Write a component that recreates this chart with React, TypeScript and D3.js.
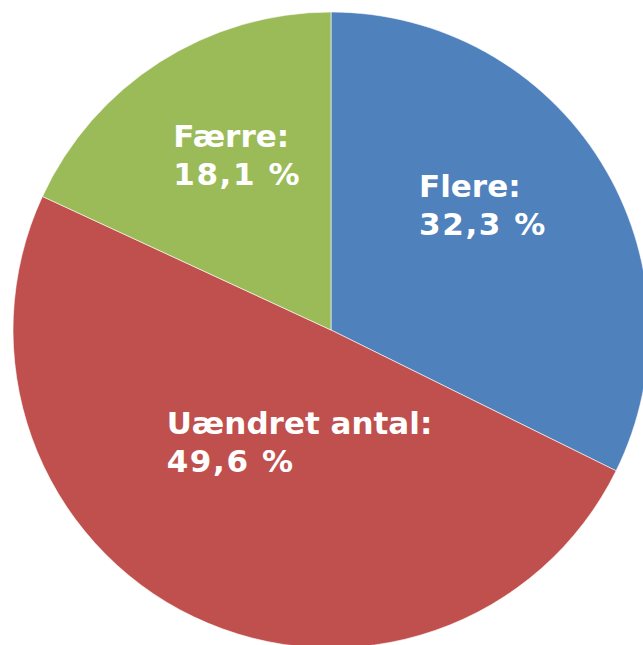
import React from "react";
import * as d3 from "d3";

const categories = ["Flere", "Uændret antal", "Færre"];
const values = [32.3, 49.6, 18.1];
const colors = ["#4F81BD", "#C0504D", "#9BBB59"];

// label layout offsets (from arc centroid) for the first line start
const labelOffsets: [number, number][] = [
  [-74, -32],
  [-82, -68],
  [-55, -22],
];

const W = 643;
const H = 645;
const cx = 331;
const cy = 330;
const R = 318;

export default function App() {
  const pie = d3.pie<number>().sort(null).value((d) => d)(values);
  const arc = d3.arc<d3.PieArcDatum<number>>().innerRadius(0).outerRadius(R);
  const labelArc = d3
    .arc<d3.PieArcDatum<number>>()
    .innerRadius(R * 0.6)
    .outerRadius(R * 0.6);
  const fmt = (v: number) => v.toFixed(1).replace(".", ",") + " %";
  return (
    <svg
      width={W}
      height={H}
      style={{ position: "absolute", left: 0, top: 0, background: "#fff" }}
    >
      <g transform={`translate(${cx},${cy})`}>
        {pie.map((p, i) => (
          <path
            key={i}
            d={arc(p) || ""}
            fill={colors[i]}
            stroke="#ffffff"
            strokeWidth={0.6}
          />
        ))}
        {pie.map((p, i) => {
          const [x, y] = labelArc.centroid(p);
          const tx = x + labelOffsets[i][0];
          const ty = y + labelOffsets[i][1];
          return (
            <text
              key={"t" + i}
              x={tx}
              y={ty}
              fill="#ffffff"
              fontFamily="DejaVu Sans, Verdana, sans-serif"
              fontWeight="bold"
              fontSize={31}
            >
              <tspan x={tx} y={ty}>
                {categories[i] + ":"}
              </tspan>
              <tspan x={tx} y={ty + 38} letterSpacing={1.6}>
                {fmt(values[i])}
              </tspan>
            </text>
          );
        })}
      </g>
    </svg>
  );
}
